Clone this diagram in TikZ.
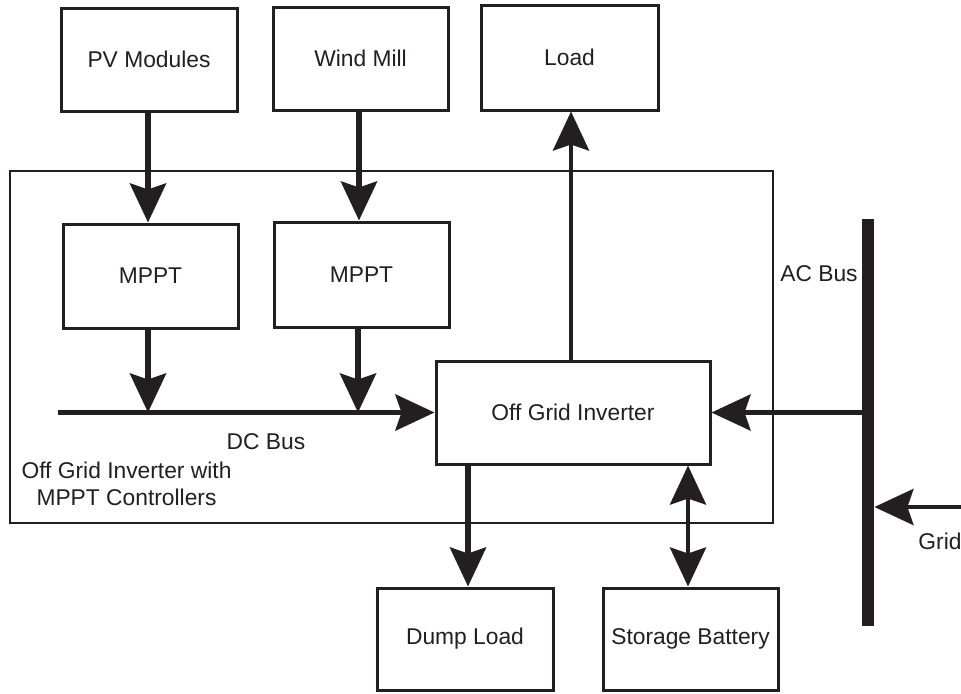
\documentclass[tikz,border=0pt]{standalone}
\usepackage{fontspec}
\setmainfont{Liberation Sans}
\usetikzlibrary{arrows.meta}
\definecolor{ink}{HTML}{231F20}
\begin{document}
\begin{tikzpicture}[x=0.5pt,y=-0.5pt,
  every node/.style={font=\fontsize{11.4}{13.5}\selectfont, text=ink},
  box/.style={draw=ink, line width=1.5pt, rectangle, inner sep=0pt},
  arr/.style={draw=ink, line width=2.8pt, -{Stealth[length=19.5pt,width=18pt,inset=3pt]}},
  arrthin/.style={draw=ink, line width=2.3pt, -{Stealth[length=19.5pt,width=18pt,inset=3pt]}},
  darr/.style={draw=ink, line width=2.3pt, {Stealth[length=19.5pt,width=18pt,inset=3pt]}-{Stealth[length=19.5pt,width=18pt,inset=3pt]}},
  lbl/.style={inner sep=0pt}]
\useasboundingbox (0,0) rectangle (961,693);
\fill[white] (0,0) rectangle (961,693);
% outer frame
\draw[ink, line width=0.75pt] (10,171) rectangle (773,523);
% boxes
\node[box, minimum width=88pt, minimum height=51.5pt] (pv) at (149,59.5) {PV Modules};
\node[box, minimum width=87.5pt, minimum height=51.5pt] (wm) at (360.5,58.5) {Wind Mill};
\node[box, minimum width=88.5pt, minimum height=52.5pt] (load) at (569.5,57.5) {Load};
\node[box, minimum width=87.5pt, minimum height=52pt] (m1) at (150.5,276) {MPPT};
\node[box, minimum width=87.5pt, minimum height=52.5pt] (m2) at (361.5,274.5) {MPPT};
\node[box, minimum width=137pt, minimum height=51.5pt] (inv) at (573,412.5) {Off Grid Inverter};
\node[box, minimum width=88pt, minimum height=51pt] (dump) at (465,639) {Dump Load};
\node[box, minimum width=87.5pt, minimum height=51pt] (bat) at (690.5,639) {Storage Battery};
% AC bus bar
\node[fill=ink, minimum width=6pt, minimum height=203.5pt, inner sep=0pt] (ac) at (868,422.5) {};
% labels
\node[lbl, anchor=east] (aclbl) at (858,274) {AC Bus};
\node[lbl] (dclbl) at (266,442) {DC Bus};
\node[lbl, align=center] (frame) at (126.5,484) {Off Grid Inverter with\\MPPT Controllers};
\node[lbl, anchor=west] (gridlbl) at (918,541) {Grid};
% coordinates
\coordinate (dcstart) at (58,412.5);
\coordinate (d1) at (148,412.5);
\coordinate (d2) at (358,412.5);
\coordinate (gridsrc) at (961,507);
% connectors
\draw[arr] (pv.south -| 148,0) -- (m1.north -| 148,0);
\draw[arr] (wm.south -| 359,0) -- (m2.north -| 359,0);
\draw[arr] (m1.south -| d1) -- (d1);
\draw[arr] (m2.south -| d2) -- (d2);
\draw[arr] (dcstart) -- (inv.west);
\draw[arrthin] (inv.north -| 571,0) -- (load.south -| 571,0);
\draw[arrthin] (ac.west |- inv.east) -- (inv.east);
\draw[arrthin] (gridsrc) -- (ac.east |- gridsrc);
\draw[arr] (inv.south -| 468,0) -- (dump.north -| 468,0);
\draw[darr] (inv.south -| 688,0) -- (bat.north -| 688,0);
\end{tikzpicture}
\end{document}
